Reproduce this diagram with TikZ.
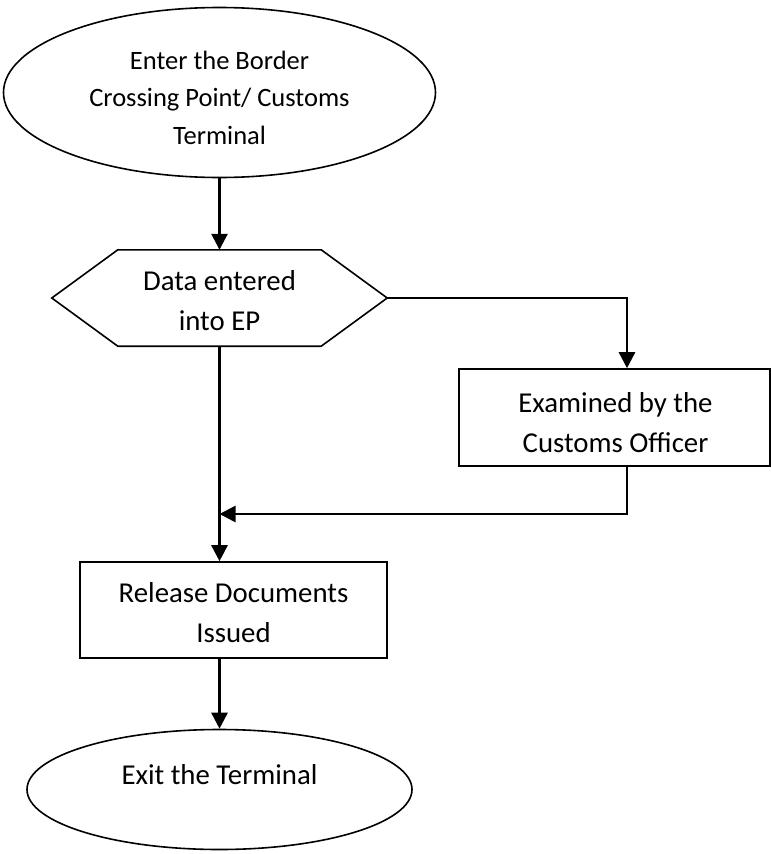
\documentclass[tikz,border=0pt]{standalone}
\usepackage{fontspec}
\setmainfont{Carlito}
\usetikzlibrary{arrows.meta,shapes.geometric}
\begin{document}
\begin{tikzpicture}[x=1pt,y=-1pt,
  every node/.style={font=\fontsize{28.8}{40}\selectfont, align=center, inner sep=0pt},
  smalltext/.style={font=\fontsize{26.5}{37.5}\selectfont},
  shapeline/.style={draw=black, line width=1.6pt},
  conn/.style={draw=black, line width=2.6pt, -{Triangle[width=16pt,length=16pt]}}]
\useasboundingbox (0,0) rectangle (771,854);
% start terminal
\node[shapeline, ellipse, minimum width=432, minimum height=170] (top) at (219.5,92.5) {};
\node[smalltext, yshift=-5pt] (toptext) at (top.center) {Enter the Border\\Crossing Point/ Customs\\Terminal};
% hexagon
\node[rectangle, minimum width=335, minimum height=96] (ep) at (219.5,298) {};
\draw[shapeline, line join=miter] (ep.west) -- ([xshift=66pt]ep.north west) -- ([xshift=-66pt]ep.north east)
  -- (ep.east) -- ([xshift=-66pt]ep.south east) -- ([xshift=66pt]ep.south west) -- cycle;
\node[yshift=-3pt] (eptext) at (ep.center) {Data entered\\into EP};
% examination
\node[shapeline, rectangle, minimum width=311, minimum height=97] (exam) at (614.5,417.5) {};
\node[yshift=-5pt, xshift=1pt] (examtext) at (exam.center) {Examined by the\\Customs Officer};
% release
\node[shapeline, rectangle, minimum width=307, minimum height=96] (rel) at (233.5,610) {};
\node[yshift=-3pt] (reltext) at (rel.center) {Release Documents\\Issued};
% exit
\node[shapeline, ellipse, minimum width=385, minimum height=120] (exit) at (219.5,789.5) {};
\node (exittext) at ([yshift=15pt]exit.center) {Exit the Terminal};
\coordinate (join) at (219.5,514);
% connectors
\draw[conn] (top.south) -- (ep.north);
\draw[conn] (ep.east) -| ([xshift=12.5pt]exam.north);
\draw[conn] ([xshift=12.5pt]exam.south) |- (join);
\draw[conn] (ep.south) -- (ep.south |- rel.north);
\draw[conn] (ep.south |- rel.south) -- (exit.north);
\end{tikzpicture}
\end{document}
